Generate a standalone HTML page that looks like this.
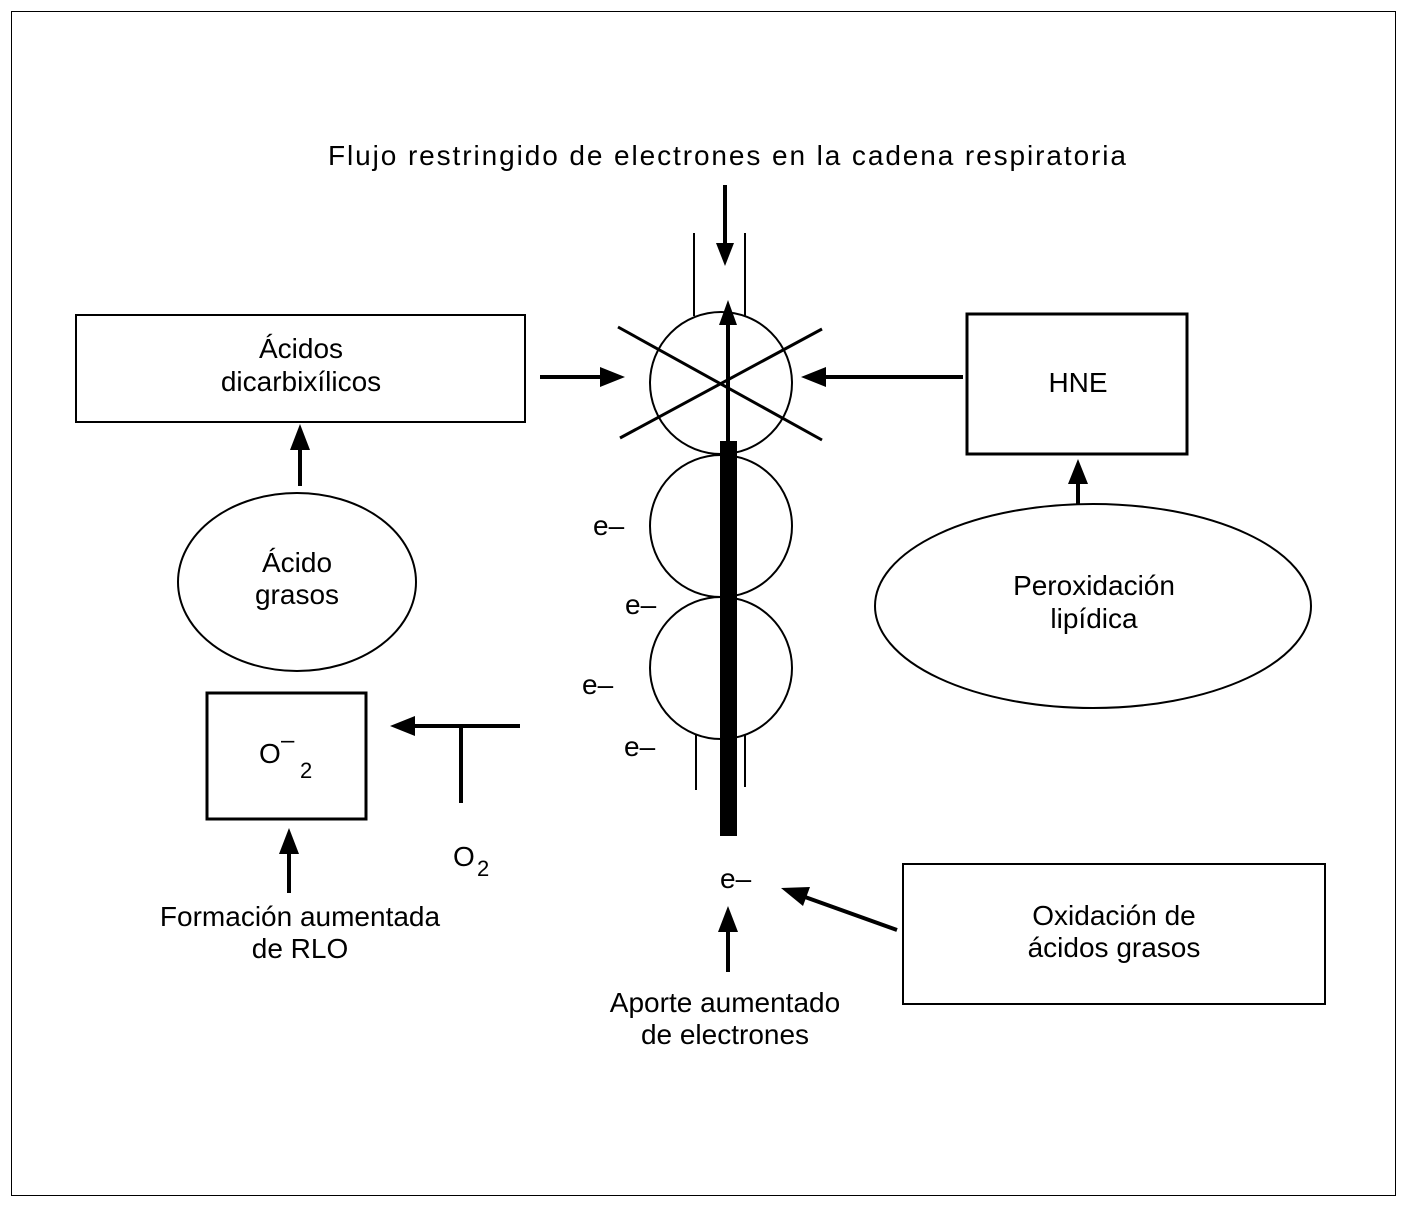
<!DOCTYPE html>
<html><head><style>html,body{margin:0;padding:0;background:#fff}</style></head><body>
<svg width="1408" height="1205" viewBox="0 0 1408 1205" xmlns="http://www.w3.org/2000/svg" font-family="Liberation Sans, Arial, sans-serif" font-size="28" fill="#000">
<defs>
<marker id="ah" markerWidth="10" markerHeight="10" refX="9" refY="5" orient="auto" markerUnits="userSpaceOnUse"><path d="M0,0 L10,5 L0,10 z"/></marker>
</defs>
<rect x="11.5" y="11.5" width="1384" height="1184" fill="none" stroke="#000" stroke-width="1"/>
<g fill="#000">
<text x="727" y="165" text-anchor="middle" textLength="798">Flujo restringido de electrones  en la cadena respiratoria</text>
<text x="301" y="358" text-anchor="middle">Ácidos</text>
<text x="301" y="391" text-anchor="middle">dicarbixílicos</text>
<text x="1078" y="392" text-anchor="middle">HNE</text>
<text x="297" y="572" text-anchor="middle">Ácido</text>
<text x="297" y="604" text-anchor="middle">grasos</text>
<text x="1094" y="595" text-anchor="middle">Peroxidación</text>
<text x="1094" y="628" text-anchor="middle">lipídica</text>
<text x="259" y="763">O</text><text x="281" y="748" font-size="24">–</text><text x="300" y="778" font-size="22">2</text>
<text x="453" y="866">O</text><text x="477" y="876" font-size="22">2</text>
<text x="300" y="926" text-anchor="middle">Formación aumentada</text>
<text x="300" y="958" text-anchor="middle">de RLO</text>
<text x="725" y="1012" text-anchor="middle">Aporte aumentado</text>
<text x="725" y="1044" text-anchor="middle">de electrones</text>
<text x="1114" y="925" text-anchor="middle">Oxidación de</text>
<text x="1114" y="957" text-anchor="middle">ácidos grasos</text>
<text x="593" y="535">e–</text>
<text x="625" y="614">e–</text>
<text x="582" y="694">e–</text>
<text x="624" y="756">e–</text>
<text x="720" y="888">e–</text>
</g>
<g fill="none" stroke="#000">
<rect x="76" y="315" width="449" height="107" stroke-width="2"/>
<rect x="967" y="314" width="220" height="140" stroke-width="3"/>
<rect x="207" y="693" width="159" height="126" stroke-width="3"/>
<rect x="903" y="864" width="422" height="140" stroke-width="2"/>
<ellipse cx="297" cy="582" rx="119" ry="89" stroke-width="2"/>
<ellipse cx="1093" cy="606" rx="218" ry="102" stroke-width="2"/>
<circle cx="721" cy="383" r="71" stroke-width="2"/>
<circle cx="721" cy="526" r="71" stroke-width="2"/>
<circle cx="721" cy="668" r="71" stroke-width="2"/>
<line x1="694" y1="233" x2="694" y2="316" stroke-width="2"/>
<line x1="745" y1="233" x2="745" y2="316" stroke-width="2"/>
<line x1="696" y1="735" x2="696" y2="790" stroke-width="2"/>
<line x1="745" y1="735" x2="745" y2="787" stroke-width="2"/>
<line x1="618" y1="327" x2="822" y2="440" stroke-width="3"/>
<line x1="620" y1="438" x2="822" y2="329" stroke-width="3"/>
<g stroke-width="4">
<line x1="725" y1="185" x2="725" y2="245"/>
<line x1="728" y1="441" x2="728" y2="322"/>
<line x1="540" y1="377" x2="602" y2="377"/>
<line x1="963" y1="377" x2="826" y2="377"/>
<line x1="300" y1="486" x2="300" y2="447"/>
<line x1="1078" y1="505" x2="1078" y2="481"/>
<line x1="520" y1="726" x2="412" y2="726"/>
<line x1="461" y1="726" x2="461" y2="803"/>
<line x1="289" y1="893" x2="289" y2="852"/>
<line x1="728" y1="972" x2="728" y2="930"/>
<line x1="897" y1="930" x2="805" y2="897"/>
</g>
</g>
<rect x="720" y="441" width="17" height="395" fill="#000"/>
<g fill="#000">
<path d="M716,243 L734,243 L725,266 z"/>
<path d="M719,325 L737,325 L728,300 z"/>
<path d="M600,367 L600,387 L625,377 z"/>
<path d="M826,367 L826,387 L801,377 z"/>
<path d="M290,450 L310,450 L300,424 z"/>
<path d="M1068,484 L1088,484 L1078,459 z"/>
<path d="M415,716 L415,736 L390,726 z"/>
<path d="M279,854 L299,854 L289,828 z"/>
<path d="M718,932 L738,932 L728,906 z"/>
<path d="M810,887 L803,906 L781,888 z"/>
</g>
</svg>
</body></html>
